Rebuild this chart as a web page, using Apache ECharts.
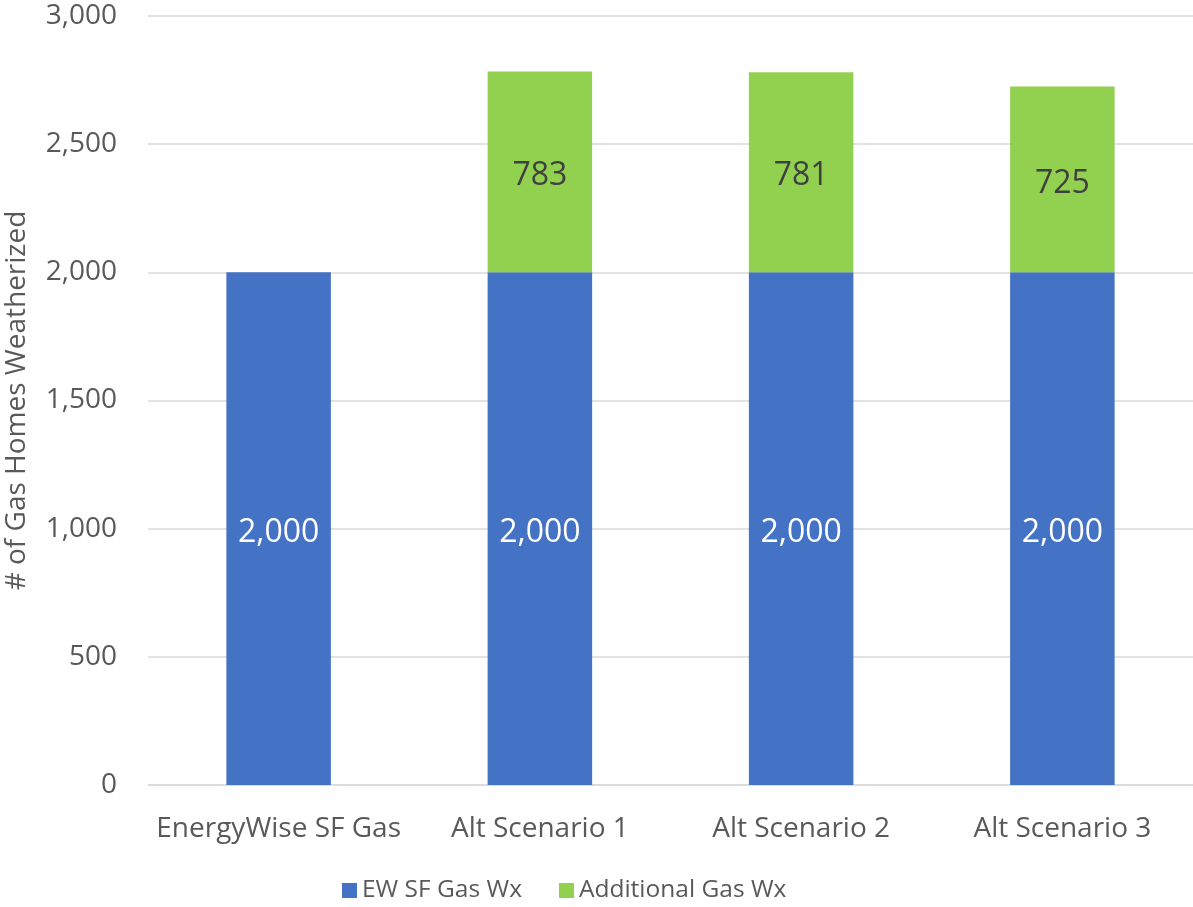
<!DOCTYPE html>
<html>
<head>
<meta charset="utf-8">
<script src="https://cdn.jsdelivr.net/npm/echarts@6/dist/echarts.min.js"></script>
<style>
  html, body { margin: 0; padding: 0; background: #fff; }
  #chart { width: 1193px; height: 907px; }
</style>
</head>
<body>
<div id="chart"></div>
<script>
const categories = ['EnergyWise SF Gas', 'Alt Scenario 1', 'Alt Scenario 2', 'Alt Scenario 3'];
const ewSfGasWx = [2000, 2000, 2000, 2000];
const additionalGasWx = [null, 783, 781, 725];
const yTicks = [0, 500, 1000, 1500, 2000, 2500, 3000];

const FONT = '"Open Sans", "Noto Sans", sans-serif';
const fmt = v => v.toLocaleString('en-US');

const chart = echarts.init(document.getElementById('chart'));
chart.setOption({
  animation: false,
  textStyle: { fontFamily: FONT },
  grid: { left: 148, right: 0, top: 16, bottom: 122, containLabel: false, outerBoundsMode: 'none' },
  legend: {
    top: 873,
    left: 337,
    itemWidth: 15,
    itemHeight: 15,
    itemGap: 37,
    icon: 'rect',
    textStyle: { fontFamily: FONT, fontSize: 24.5, color: '#595959' },
    data: ['EW SF Gas Wx', 'Additional Gas Wx']
  },
  xAxis: {
    type: 'category',
    data: categories,
    axisLine: { lineStyle: { color: '#d9d9d9', width: 1.5 } },
    axisTick: { show: false },
    axisLabel: { interval: 0, fontSize: 28, color: '#595959', margin: 30, fontFamily: FONT }
  },
  yAxis: {
    type: 'value',
    min: yTicks[0],
    max: yTicks[yTicks.length - 1],
    interval: 500,
    name: '# of Gas Homes Weatherized',
    nameLocation: 'middle',
    nameGap: 117,
    nameTextStyle: { fontSize: 28, color: '#595959', fontFamily: FONT },
    axisLine: { show: false },
    axisTick: { show: false },
    splitLine: { lineStyle: { color: '#d9d9d9', width: 1.5 } },
    axisLabel: { fontSize: 28, color: '#595959', margin: 31, fontFamily: FONT, formatter: v => fmt(v) }
  },
  series: [
    {
      name: 'EW SF Gas Wx',
      type: 'bar',
      stack: 'total',
      barWidth: '40%',
      data: ewSfGasWx,
      itemStyle: { color: '#4472C4' },
      label: {
        show: true, position: 'inside', offset: [0, 4], color: '#ffffff', fontSize: 32, fontFamily: FONT,
        formatter: p => fmt(p.value)
      }
    },
    {
      name: 'Additional Gas Wx',
      type: 'bar',
      stack: 'total',
      barWidth: '40%',
      data: additionalGasWx,
      itemStyle: { color: '#92D050' },
      label: {
        show: true, position: 'inside', offset: [0, 4], color: '#404040', fontSize: 32, fontFamily: FONT,
        formatter: p => fmt(p.value)
      }
    }
  ]
});
</script>
</body>
</html>
